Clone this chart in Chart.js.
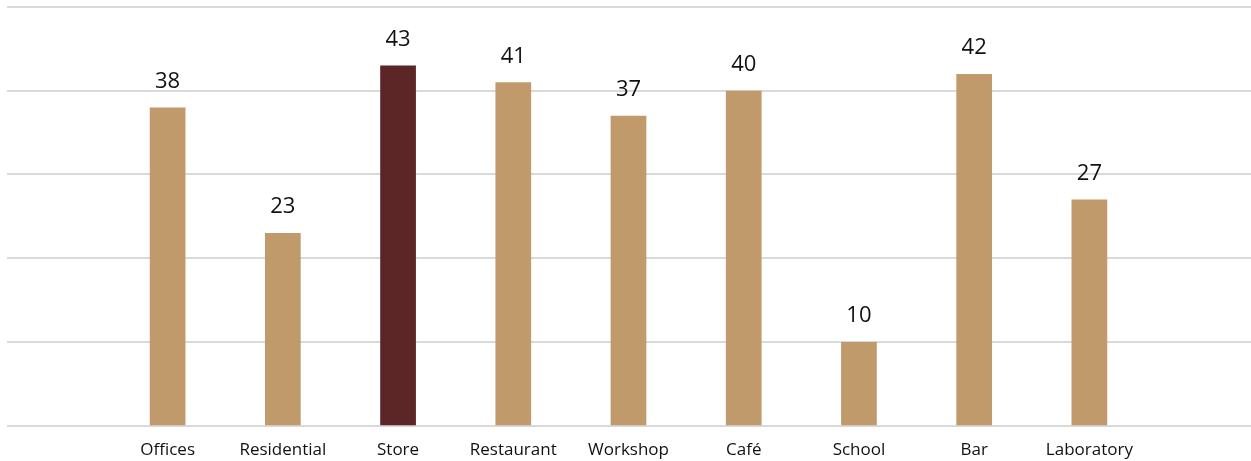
<!DOCTYPE html>
<html>
<head>
<meta charset="utf-8">
<script src="https://cdn.jsdelivr.net/npm/chart.js@4"></script>
<style>
html,body{margin:0;padding:0;background:#fff;}
#wrap{width:1251px;height:461px;position:relative;}
</style>
</head>
<body>
<div id="wrap"><canvas id="c" width="1251" height="461"></canvas></div>
<script>
const categories = ["Offices","Residential","Store","Restaurant","Workshop","Café","School","Bar","Laboratory"];
const values = [38, 23, 43, 41, 37, 40, 10, 42, 27];
const highlight = "Store";
const yTicks = [0, 10, 20, 30, 40, 50];

const baseColor = "#C19A6C";
const highColor = "#5C2526";
const FONT = "'Open Sans', 'Noto Sans', sans-serif";

const fullGrid = {
  id: 'fullGrid',
  beforeDatasetsDraw(chart) {
    const ctx = chart.ctx, y = chart.scales.y;
    ctx.save();
    ctx.strokeStyle = '#D9D9D9';
    ctx.lineWidth = 2;
    yTicks.forEach(v => {
      const py = Math.round(y.getPixelForValue(v));
      ctx.beginPath();
      ctx.moveTo(7, py);
      ctx.lineTo(chart.width, py);
      ctx.stroke();
    });
    ctx.restore();
  }
};

const valueLabels = {
  id: 'valueLabels',
  afterDatasetsDraw(chart) {
    const ctx = chart.ctx;
    const meta = chart.getDatasetMeta(0);
    ctx.save();
    ctx.font = "22px " + FONT;
    ctx.fillStyle = '#111';
    ctx.textAlign = 'center';
    ctx.textBaseline = 'middle';
    meta.data.forEach((bar, i) => {
      ctx.fillText(String(values[i]), bar.x, bar.y - 26);
    });
    ctx.restore();
  }
};

new Chart(document.getElementById('c'), {
  type: 'bar',
  data: {
    labels: categories,
    datasets: [{
      data: values,
      backgroundColor: categories.map(c => c === highlight ? highColor : baseColor),
      barPercentage: 0.62,
      categoryPercentage: 0.5
    }]
  },
  options: {
    responsive: false,
    animation: false,
    layout: { padding: { left: 110, right: 104, top: 7, bottom: -13 } },
    plugins: { legend: { display: false }, tooltip: { enabled: false } },
    scales: {
      x: {
        grid: { display: false, drawTicks: false },
        border: { display: false },
        ticks: { color: '#111', font: { family: FONT, size: 17 }, padding: 14, maxRotation: 0, autoSkip: false }
      },
      y: {
        display: false,
        min: 0, max: 50,
        ticks: { stepSize: 10 }
      }
    }
  },
  plugins: [fullGrid, valueLabels]
});
</script>
</body>
</html>
